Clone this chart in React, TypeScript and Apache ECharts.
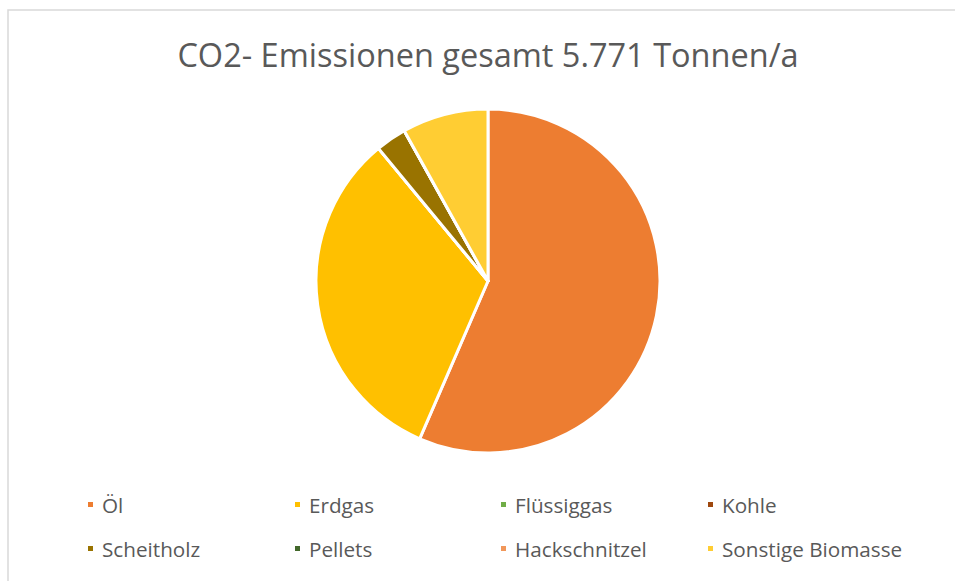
import React, { useEffect, useRef } from "react";
import * as echarts from "echarts";

const categories = ["Öl", "Erdgas", "Flüssiggas", "Kohle", "Scheitholz", "Pellets", "Hackschnitzel", "Sonstige Biomasse"];
const values = [3261, 1876, 0, 0, 167, 0, 0, 467];
const colors = ["#ED7D31", "#FFC000", "#70AD47", "#9E480E", "#997300", "#43682B", "#F1975A", "#FFCD33"];
const titleText = "CO2- Emissionen gesamt 5.771 Tonnen/a";

const FONT = "Open Sans";

export default function App() {
  const ref = useRef<HTMLDivElement>(null);
  useEffect(() => {
    if (!ref.current) return;
    const chart = echarts.init(ref.current, undefined, { renderer: "svg" });
    const colX = [81, 288, 494, 701];
    const rowY = [489, 533];
    const legends = categories.map((name, i) => ({
      data: [name],
      left: colX[i % 4],
      top: rowY[Math.floor(i / 4)],
      orient: "horizontal",
      icon: "rect",
      itemWidth: 7,
      itemHeight: 7,
      selectedMode: false,
      textStyle: { color: "#595959", fontSize: 20.7, fontFamily: FONT, padding: [0, 0, 0, 3] },
    }));
    chart.setOption({
      animation: false,
      color: colors,
      graphic: [
        {
          type: "rect",
          shape: { x: 8, y: 10, width: 1000, height: 700 },
          style: { fill: "none", stroke: "#D9D9D9", lineWidth: 1.5 },
          silent: true,
        },
        {
          type: "text",
          x: 488,
          y: 54,
          style: {
            text: titleText,
            fill: "#595959",
            font: `32.5px "${FONT}"`,
            textAlign: "center",
            textVerticalAlign: "middle",
          },
        },
      ],
      legend: legends,
      series: [
        {
          type: "pie",
          center: [488, 281],
          radius: 172,
          startAngle: 90,
          clockwise: true,
          label: { show: false },
          labelLine: { show: false },
          itemStyle: { borderColor: "#FFFFFF", borderWidth: 3 },
          emphasis: { disabled: true },
          data: categories.map((name, i) => ({ name, value: values[i] })),
        },
      ],
    });
    return () => chart.dispose();
  }, []);
  return <div ref={ref} style={{ position: "fixed", left: 0, top: 0, width: 955, height: 581, background: "#fff" }} />;
}
